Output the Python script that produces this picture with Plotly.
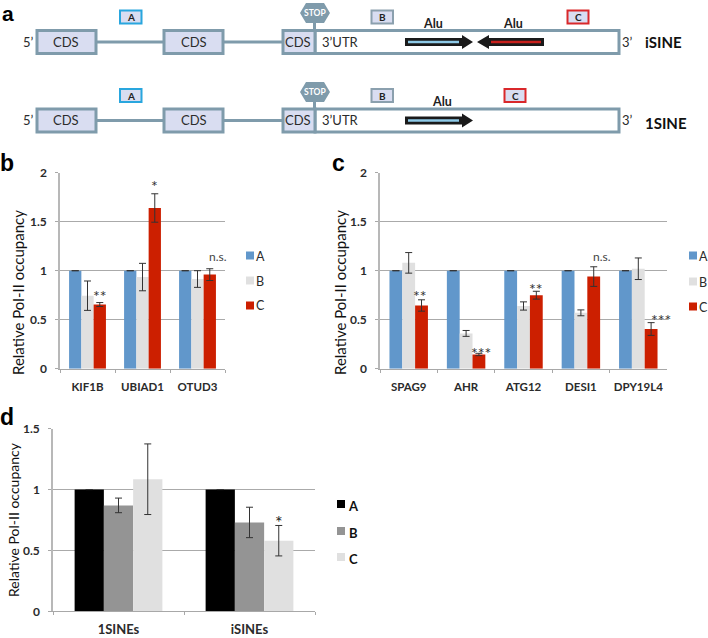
import plotly.graph_objects as go

W, H = 708, 638
FONT = "Lato"
DARK = "#2b2b2b"

series = ["A", "B", "C"]

b_genes = ["KIF1B", "UBIAD1", "OTUD3"]
b_A = [1, 1, 1]
b_B = [0.745, 0.935, 0.915]
b_C = [0.655, 1.64, 0.96]
b_A_err = [0, 0, 0]
b_B_err = [0.15, 0.14, 0.085]
b_C_err = [0.02, 0.145, 0.06]

c_genes = ["SPAG9", "AHR", "ATG12", "DESI1", "DPY19L4"]
c_A = [1, 1, 1, 1, 1]
c_B = [1.08, 0.36, 0.64, 0.57, 1.02]
c_C = [0.645, 0.145, 0.75, 0.94, 0.405]
c_A_err = [0, 0, 0, 0, 0]
c_B_err = [0.105, 0.03, 0.042, 0.03, 0.11]
c_C_err = [0.058, 0.012, 0.04, 0.10, 0.065]

d_groups = ["1SINEs", "iSINEs"]
d_A = [1, 1]
d_B = [0.87, 0.73]
d_C = [1.085, 0.58]
d_A_err = [0, 0]
d_B_err = [0.06, 0.125]
d_C_err = [0.29, 0.125]

colors_bc = ["#6197cb", "#e0e0e0", "#cc1f00"]
colors_d = ["#000000", "#949494", "#e0e0e0"]


def px(x):
    return x / W


def py(y):
    return 1 - y / H


fig = go.Figure()


def add_panel(n, cats, vals, errs, colors):
    suffix = "" if n == 1 else str(n)
    for name, v, e, col in zip(series, vals, errs, colors):
        fig.add_trace(go.Bar(
            x=cats, y=v, name=name, marker=dict(color=col, line=dict(width=0)),
            error_y=dict(type="data", array=e, visible=True, color="#333333", thickness=1, width=3.5),
            xaxis="x" + suffix, yaxis="y" + suffix, showlegend=False))


add_panel(1, b_genes, [b_A, b_B, b_C], [b_A_err, b_B_err, b_C_err], colors_bc)
add_panel(2, c_genes, [c_A, c_B, c_C], [c_A_err, c_B_err, c_C_err], colors_bc)
add_panel(3, d_groups, [d_A, d_B, d_C], [d_A_err, d_B_err, d_C_err], colors_d)

axis_x = dict(tickson="boundaries", ticks="outside", ticklen=3, tickcolor="#a8a8a8", tickwidth=1,
              showline=True, linecolor="#a8a8a8", linewidth=1, showgrid=False, automargin=False, tickangle=0,
              tickfont=dict(family=FONT, size=11.5, color=DARK, weight="bold"), ticklabelstandoff=7)
axis_y = dict(ticks="outside", ticklen=3, tickcolor="#a8a8a8", tickwidth=1, automargin=False,
              showline=True, linecolor="#b8b8b8", linewidth=1.5, showgrid=True, gridcolor="#aaaaaa",
              gridwidth=1, zeroline=False,
              tickfont=dict(family=FONT, size=12, color=DARK, weight="bold"), ticklabelstandoff=6)
axis_x_d = dict(axis_x, tickfont=dict(family=FONT, size=13, color=DARK, weight="bold"), ticklabelstandoff=6)

fig.update_layout(
    width=W, height=H, margin=dict(l=0, r=0, t=0, b=0), paper_bgcolor="white", plot_bgcolor="white",
    barmode="group", bargap=0.33, bargroupgap=0, showlegend=False,
    xaxis=dict(axis_x, domain=[px(60), px(225)], anchor="y"),
    yaxis=dict(axis_y, domain=[py(368.7), py(172.7)], range=[0, 2], tickvals=[0, 0.5, 1, 1.5, 2], ticktext=["0", "0.5", "1", "1.5", "2"], anchor="x"),
    xaxis2=dict(axis_x, domain=[px(380), px(667)], anchor="y2"),
    yaxis2=dict(axis_y, domain=[py(368.7), py(172.7)], range=[0, 2], tickvals=[0, 0.5, 1, 1.5, 2], ticktext=["0", "0.5", "1", "1.5", "2"], anchor="x2"),
    xaxis3=dict(axis_x_d, domain=[px(53), px(315)], anchor="y3"),
    yaxis3=dict(axis_y, domain=[py(611.3), py(428.7)], range=[0, 1.5], tickvals=[0, 0.5, 1, 1.5], ticktext=["0", "0.5", "1", "1.5"], anchor="x3"),
)

shapes = []
annots = []


def text(x, y, s, size=12, color=DARK, bold=False, angle=0, family=FONT):
    font = dict(family=family, size=size, color=color)
    if bold:
        font["weight"] = "bold"
    annots.append(dict(xref="paper", yref="paper", x=px(x), y=py(y), text=s, showarrow=False,
                       xanchor="center", yanchor="middle", font=font, textangle=angle))


def rect(x0, y0, x1, y1, fill="rgba(0,0,0,0)", line=None, lw=0):
    shapes.append(dict(type="rect", xref="paper", yref="paper", x0=px(x0), x1=px(x1), y0=py(y0), y1=py(y1),
                       fillcolor=fill, line=dict(color=line or fill, width=lw)))


def seg(x0, y0, x1, y1, color, lw):
    shapes.append(dict(type="line", xref="paper", yref="paper", x0=px(x0), x1=px(x1), y0=py(y0), y1=py(y1),
                       line=dict(color=color, width=lw)))


def poly(points, fill):
    path = "M" + " L".join(f"{px(x):.5f},{py(y):.5f}" for x, y in points) + " Z"
    shapes.append(dict(type="path", xref="paper", yref="paper", path=path, fillcolor=fill, line=dict(width=0)))


GENE = "#7f9bab"
CDS = "#d9ddf1"
BLUE = "#29a6de"
RED = "#d9282b"
BLK = "#1a1a1a"


def tag(x0, y0, x1, y1, s, border):
    rect(x0, y0, x1, y1, CDS, border, 2)
    text((x0 + x1) / 2, (y0 + y1) / 2, s, size=10, color="#222222", bold=True)


def gene_row(yc, stop_y, tag_y, c_x, label, label_x, label_y):
    t, b = yc - 11.5, yc + 11.5
    seg(97, yc, 163, yc, GENE, 3)
    seg(224, yc, 282, yc, GENE, 3)
    rect(315, t, 619, b, "white", GENE, 3)
    for x0, x1 in [(37, 96), (164, 223), (283, 315)]:
        rect(x0, t, x1, b, CDS, GENE, 3)
    text(66, yc, "CDS", size=13)
    text(194, yc, "CDS", size=13)
    text(298, yc, "CDS", size=13)
    text(340, yc, "3\u2019UTR", size=13)
    text(29, yc, "5\u2019", size=13)
    text(627, yc, "3\u2019", size=13)
    text(label_x, label_y, label, size=15, color="#111111", bold=True)
    seg(314.5, stop_y, 314.5, t, GENE, 3)
    poly([(300, stop_y), (306, stop_y - 10), (324, stop_y - 10), (330, stop_y),
          (324, stop_y + 10), (306, stop_y + 10)], GENE)
    text(315, stop_y, "STOP", size=8.5, color="white", bold=True)
    tag(120, tag_y, 141.5, tag_y + 13, "A", BLUE)
    tag(371.5, tag_y, 393, tag_y + 13, "B", "#8ba0ae")
    tag(c_x, tag_y, c_x + 21, tag_y + 13, "C", RED)


def right_arrow(yc):
    poly([(405, yc - 4), (462, yc - 4), (462, yc - 7), (473, yc), (462, yc + 7), (462, yc + 4), (405, yc + 4)], BLK)
    rect(408, yc - 1.2, 459, yc + 1.2, "#8ecae8")


def left_arrow(yc):
    poly([(544, yc - 4), (489, yc - 4), (489, yc - 7), (477, yc), (489, yc + 7), (489, yc + 4), (544, yc + 4)], BLK)
    rect(491, yc - 1.2, 541, yc + 1.2, "#c8201c")


gene_row(42, 13, 10.5, 567.5, "iSINE", 663, 42)
gene_row(120.5, 92, 89, 504.5, "1SINE", 666, 123)
right_arrow(42)
left_arrow(42)
right_arrow(120.5)
text(433, 23, "Alu", size=12.5, color="#222222", bold=True)
text(513, 23, "Alu", size=12.5, color="#222222", bold=True)
text(442, 101, "Alu", size=12.5, color="#222222", bold=True)

text(8, 13, "a", size=21, color="#000000", bold=True, family="Liberation Sans")
for x, y, s in [(7, 163, "b"), (338, 163, "c"), (7, 417, "d")]:
    text(x, y, s, size=23, color="#000000", bold=True, family="Liberation Sans")

text(18, 293, "Relative Pol-II occupancy", size=15, color="#111111", angle=-90)
text(340, 293, "Relative Pol-II occupancy", size=15, color="#111111", angle=-90)
text(13, 520, "Relative Pol-II occupancy", size=14, color="#111111", angle=-90)

for (sx, tx), ys, cols in [((246, 260), (255, 280, 305), colors_bc), ((689, 703), (255, 281, 306), colors_bc)]:
    for name, y, col in zip(series, ys, cols):
        rect(sx, y - 3.5, sx + 8, y + 4.5, col)
        text(tx, y + 1, name, size=12.5)
for name, y, col in zip(series, (504, 531, 557), colors_d):
    rect(337, y - 4, 345, y + 4, col)
    text(353, y + 1.5, name, size=13, color="#111111", bold=True)

for x, y, s in [(100, 295, "**"), (154, 185, "*"), (420, 295, "**"), (481, 352, "***"), (536, 288, "**"),
                (661, 319, "***")]:
    text(x, y, s, size=16, color="#333333")
text(218, 256, "n.s.", size=12, color="#444444")
text(602, 256, "n.s.", size=12, color="#444444")
text(279, 522, "*", size=18, color="#222222")

fig.update_layout(shapes=shapes, annotations=annots)
fig.write_html("out.html", post_script="document.body.style.margin='0';", config=dict(displayModeBar=False))
